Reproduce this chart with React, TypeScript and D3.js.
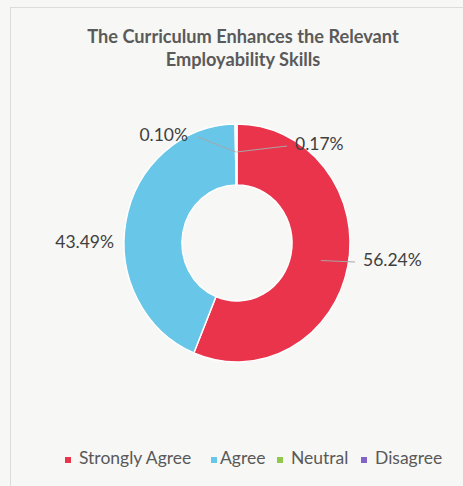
import React from "react";
import * as d3 from "d3";

const categories = ["Strongly Agree", "Agree", "Neutral", "Disagree"];
const values = [56.24, 43.49, 0.1, 0.17];
const labels = ["56.24%", "43.49%", "0.10%", "0.17%"];
const colors = ["#e9344c", "#68c6e8", "#92c84a", "#8064c8"];
const titleLines = ["The Curriculum Enhances the Relevant", "Employability Skills"];

const W = 463;
const H = 486;
const cx = 237;
const cy = 243;
const outerR = 119;
const innerR = 58;
const sx = 113 / 119; // slight horizontal squish seen in the reference

// label placement (text anchor point) and leader-line start radius per slice
const labelPlace = [
  { x: 363, y: 262, anchor: "start", leaderR: 90 },
  { x: 114, y: 244, anchor: "end", leaderR: null },
  { x: 188, y: 137, anchor: "end", leaderR: 91 },
  { x: 295, y: 146, anchor: "start", leaderR: 91 },
];

export default function App() {
  const pie = d3.pie<number>().sort(null).value((d) => d);
  const arcs = pie(values);
  const arc = d3.arc<d3.PieArcDatum<number>>().innerRadius(innerR).outerRadius(outerR);

  const legendItems = [
    { x: 65, tx: 79 },
    { x: 211, tx: 220 },
    { x: 277, tx: 291 },
    { x: 361, tx: 375 },
  ];

  return (
    <svg
      width={W}
      height={H}
      style={{ position: "absolute", left: 0, top: 0, background: "#f7f7f5" }}
      fontFamily="Lato, 'Open Sans', sans-serif"
    >
      <rect x={0} y={0} width={W} height={H} fill="#f7f7f5" />
      <line x1={10.5} y1={7} x2={10.5} y2={H} stroke="#dcdcdc" strokeWidth={1} />
      <line x1={10} y1={7.5} x2={W} y2={7.5} stroke="#dcdcdc" strokeWidth={1} />

      {titleLines.map((t, i) => (
        <text
          key={i}
          x={243}
          y={43 + i * 23}
          textAnchor="middle"
          fontSize={18.2}
          fontWeight="bold"
          fill="#5a5a5a"
        >
          {t}
        </text>
      ))}

      <g transform={`translate(${cx},${cy}) scale(${sx},1)`}>
        {arcs.map((a, i) => (
          <path key={i} d={arc(a) || ""} fill={colors[i]} stroke="#ffffff" strokeWidth={1.5} />
        ))}
      </g>

      {arcs.map((a, i) => {
        const p = labelPlace[i];
        const mid = (a.startAngle + a.endAngle) / 2;
        let leader = null;
        if (p.leaderR !== null) {
          const lx = cx + sx * p.leaderR * Math.sin(mid);
          const ly = cy - p.leaderR * Math.cos(mid);
          const ex = p.anchor === "start" ? p.x - 8 : p.x + 10;
          leader = (
            <line x1={lx} y1={ly} x2={ex} y2={p.y} stroke="#a6a6a6" strokeWidth={1} />
          );
        }
        return (
          <g key={i}>
            {leader}
            <text
              x={p.x}
              y={p.y}
              textAnchor={p.anchor as any}
              dominantBaseline="middle"
              fontSize={17.5}
              fill="#404040"
            >
              {labels[i]}
            </text>
          </g>
        );
      })}

      {categories.map((c, i) => (
        <g key={c}>
          <rect x={legendItems[i].x} y={457} width={6} height={6} fill={colors[i]} />
          <text x={legendItems[i].tx} y={460} dominantBaseline="middle" fontSize={17.5} fill="#595959">
            {c}
          </text>
        </g>
      ))}
    </svg>
  );
}
